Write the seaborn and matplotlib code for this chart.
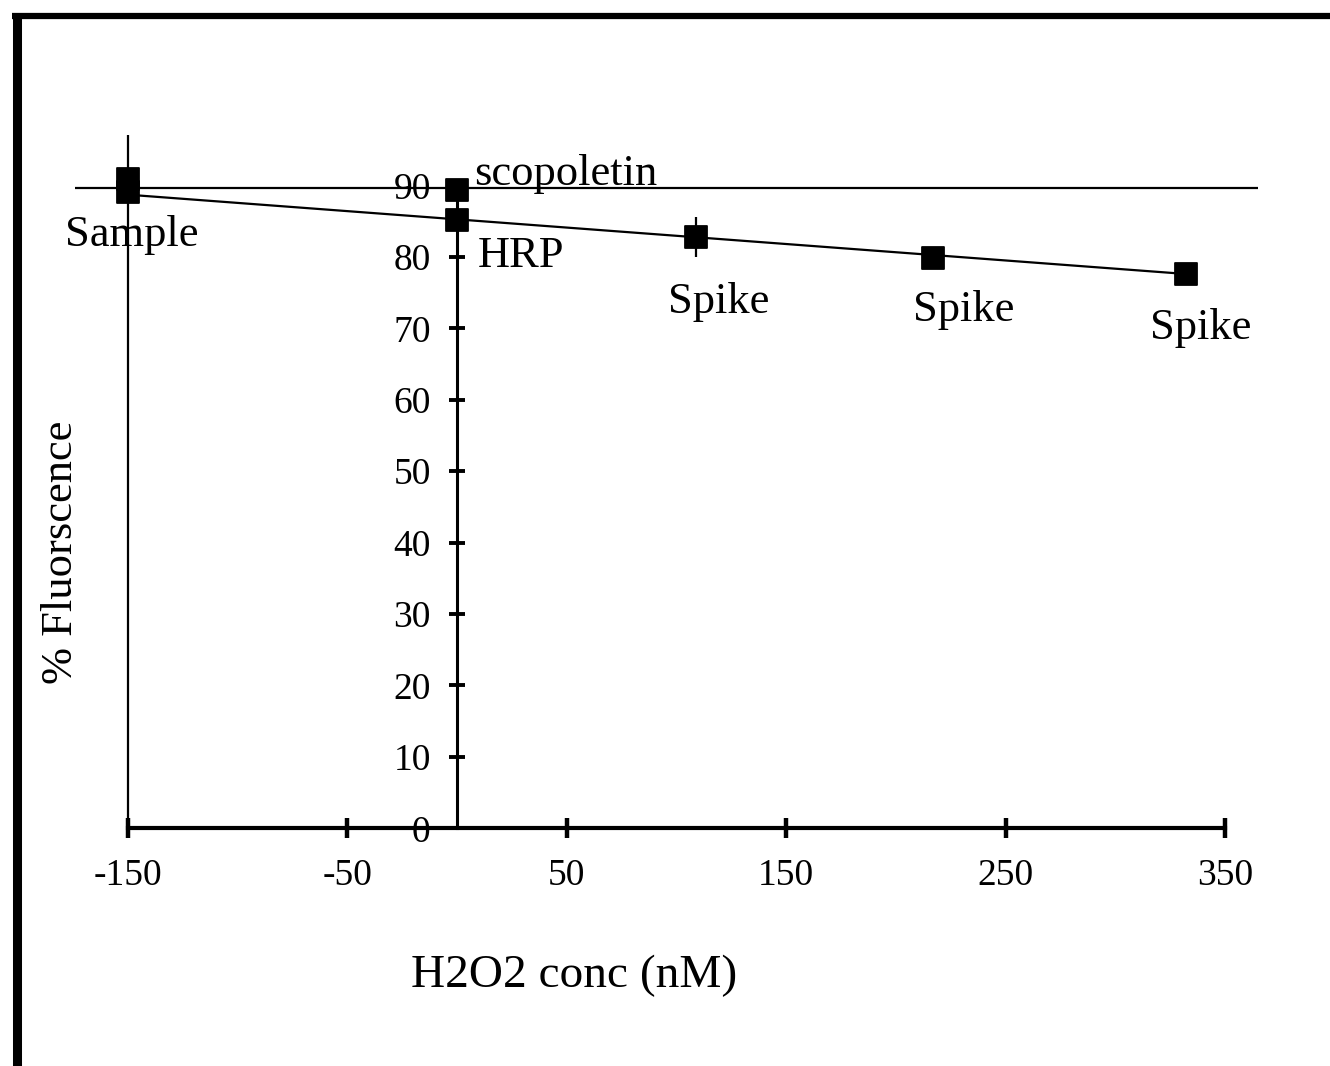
import pandas as pd
import seaborn as sns
import matplotlib.pyplot as plt
from matplotlib.lines import Line2D

# data
labels = ["Sample", "Sample", "scopoletin", "HRP", "Spike", "Spike", "Spike"]
conc = [-150, -150, 0, 0, 109, 217, 332]
fluor = [90.9, 89.1, 89.4, 85.2, 82.8, 79.8, 77.6]

fit_x = [-150, 332]
fit_y = [88.7, 77.6]
scopoletin_level = 89.6

x_ticks = [-150, -50, 50, 150, 250, 350]
y_ticks = [0, 10, 20, 30, 40, 50, 60, 70, 80, 90]

df = pd.DataFrame({"label": labels, "conc": conc, "fluor": fluor})
fit = pd.DataFrame({"conc": fit_x, "fluor": fit_y})

sns.set_theme(style="white")
plt.rcParams["font.family"] = ["Liberation Serif", "DejaVu Serif"]
plt.rcParams["axes.unicode_minus"] = False
plt.rcParams["text.color"] = "black"

fig = plt.figure(figsize=(13.3, 10.66), dpi=100)
ax = fig.add_axes([0.0301, 0.1895, 0.9406, 0.7036])

# scopoletin level and the drop line at the sample
ax.hlines(scopoletin_level, -174, 365, color="black", lw=1.6)
ax.vlines(-150, 0, 97, color="black", lw=1.6)

sns.lineplot(data=fit, x="conc", y="fluor", color="black", lw=1.6, ax=ax)
ax.errorbar(109, 82.8, yerr=2.8, fmt="none", ecolor="black", elinewidth=1.6)
sns.scatterplot(data=df, x="conc", y="fluor", marker="s", s=260,
                color="black", edgecolor="black", ax=ax, zorder=5)

# point labels
ax.text(-148, 83.0, "Sample", fontsize=32, ha="center", va="center")
ax.text(8, 91.6, "scopoletin", fontsize=32, ha="left", va="center")
ax.text(9.5, 80.1, "HRP", fontsize=32, ha="left", va="center")
ax.text(119, 73.7, "Spike", fontsize=32, ha="center", va="center")
ax.text(231, 72.5, "Spike", fontsize=32, ha="center", va="center")
ax.text(339, 70.0, "Spike", fontsize=32, ha="center", va="center")

ax.set_xlim(-190, 380)
ax.set_ylim(-5, 100)
ax.set_xticks(x_ticks)
ax.set_yticks(y_ticks)
ax.tick_params(axis="x", bottom=True, direction="inout", length=15, width=3.2,
               labelsize=27, pad=14, colors="black")
ax.tick_params(axis="y", left=True, direction="inout", length=12, width=2.8,
               labelsize=27, pad=13, colors="black")

for side in ["top", "right"]:
    ax.spines[side].set_visible(False)
ax.spines["bottom"].set_position(("data", 0))
ax.spines["bottom"].set_bounds(-150, 350)
ax.spines["bottom"].set_linewidth(3)
ax.spines["bottom"].set_color("black")
ax.spines["left"].set_position(("data", 0))
ax.spines["left"].set_bounds(0, 90)
ax.spines["left"].set_linewidth(2.2)
ax.spines["left"].set_color("black")

ax.set_xlabel("")
ax.set_ylabel("")
fig.text(0.432, 0.085, "H2O2 conc (nM)", fontsize=34, ha="center", va="center")
fig.text(0.046, 0.482, "% Fluorscence", fontsize=32, rotation=90,
         ha="center", va="center")

# thick frame on the top and left edge
fig.add_artist(Line2D([0.009, 1.0], [0.985, 0.985], color="black", lw=4.5,
                      solid_capstyle="butt", transform=fig.transFigure))
fig.add_artist(Line2D([0.0128, 0.0128], [0.0, 0.985], color="black", lw=6.5,
                      solid_capstyle="butt", transform=fig.transFigure))

fig.savefig("out.png", dpi=100)
